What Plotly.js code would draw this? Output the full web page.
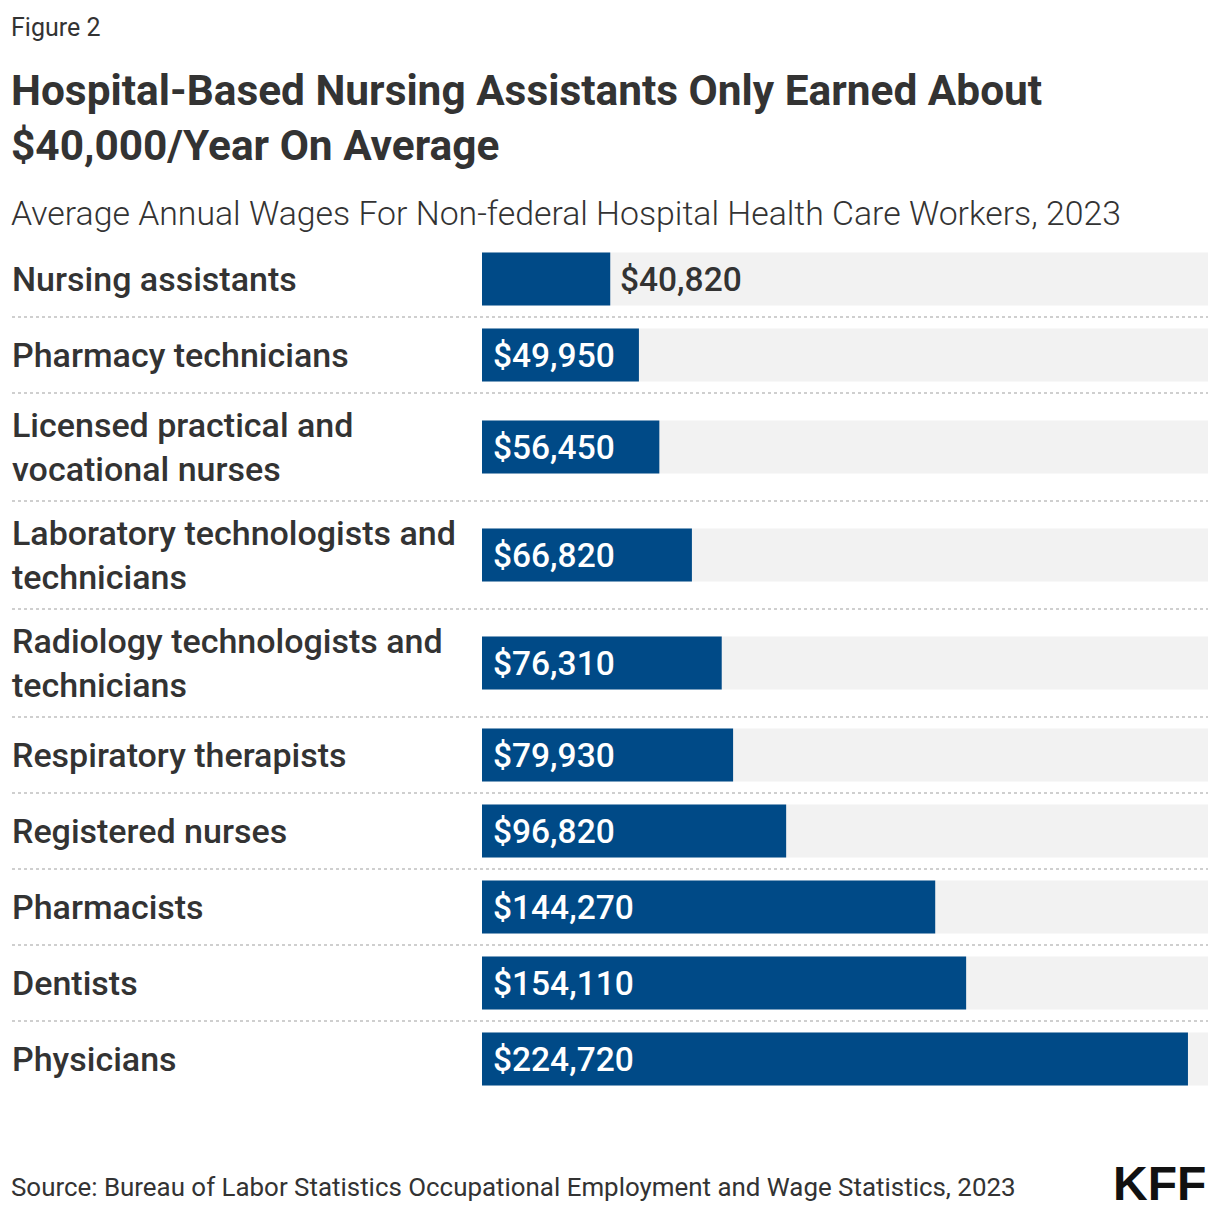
<!DOCTYPE html>
<html>
<head>
<meta charset="utf-8">
<script src="https://cdn.plot.ly/plotly-3.0.1.min.js"></script>
<style>html,body{margin:0;padding:0;background:#fff;}#chart{width:1220px;height:1214px;}</style>
</head>
<body>
<div id="chart"></div>
<script>
// ---- Data ----
const categories = [
  "Nursing assistants",
  "Pharmacy technicians",
  "Licensed practical and<br>vocational nurses",
  "Laboratory technologists and<br>technicians",
  "Radiology technologists and<br>technicians",
  "Respiratory therapists",
  "Registered nurses",
  "Pharmacists",
  "Dentists",
  "Physicians"
];
const wages = [40820, 49950, 56450, 66820, 76310, 79930, 96820, 144270, 154110, 224720];
const wageLabels = ["$40,820", "$49,950", "$56,450", "$66,820", "$76,310", "$79,930", "$96,820", "$144,270", "$154,110", "$224,720"];

const titleText = "Hospital-Based Nursing Assistants Only Earned About<br>$40,000/Year On Average";
const subtitleText = "Average Annual Wages For Non-federal Hospital Health Care Workers, 2023";
const figureText = "Figure 2";
const sourceText = "Source: Bureau of Labor Statistics Occupational Employment and Wage Statistics, 2023";

// ---- Layout geometry ----
const W = 1220, H = 1214;
const PL = 482, PR = 12, PT = 241;
const ROW1 = 76, ROW2 = 108, BARH = 53;
const XMAX = 231100;
const FONT = "Roboto, 'Noto Sans', sans-serif";
const BLUE = "#004a87", GRAY_BG = "#f2f2f2", TXT = "#333333";

const rowH = categories.map(c => c.includes("<br>") ? ROW2 : ROW1);
const totalH = rowH.reduce((a, b) => a + b, 0);
const centers = [], bounds = [];
let acc = 0;
rowH.forEach((h, i) => { centers.push(acc + h / 2); acc += h; if (i < rowH.length - 1) bounds.push(acc); });

const plotW = W - PL - PR;
const PB = H - PT - totalH;
const pxX = px => (px - PL) / plotW;
const pxY = py => (PT + totalH - py) / totalH;

const shapes = [];
centers.forEach(c => shapes.push({
  type: "rect", layer: "below", xref: "paper", yref: "y",
  x0: 0, x1: 1, y0: c - BARH / 2, y1: c + BARH / 2,
  fillcolor: GRAY_BG, line: {width: 0}
}));
bounds.forEach(b => shapes.push({
  type: "line", xref: "paper", yref: "y",
  x0: pxX(12), x1: 1, y0: b, y1: b,
  line: {color: "#cfcfcf", width: 2, dash: "dot"}
}));

const annotations = [];
categories.forEach((c, i) => annotations.push({
  xref: "paper", yref: "y", x: pxX(10), y: centers[i],
  xanchor: "left", yanchor: "middle", align: "left", showarrow: false,
  text: c, font: {family: FONT, size: 34, color: TXT, weight: 500}
}));
wages.forEach((v, i) => {
  const barPx = v / XMAX * plotW;
  const inside = barPx > 140;
  annotations.push({
    xref: "x", yref: "y", x: inside ? 0 : v, y: centers[i],
    xshift: inside ? 9 : 8,
    xanchor: "left", yanchor: "middle", showarrow: false,
    text: wageLabels[i],
    font: {family: FONT, size: 33.5, color: inside ? "#ffffff" : TXT, weight: 500}
  });
});
annotations.push(
  {xref: "paper", yref: "paper", x: pxX(9), y: pxY(27), xanchor: "left", yanchor: "middle", showarrow: false,
   text: figureText, font: {family: FONT, size: 25, color: TXT}},
  {xref: "paper", yref: "paper", x: pxX(9), y: pxY(118), xanchor: "left", yanchor: "middle", align: "left", showarrow: false,
   text: "<b>" + titleText.replace("<br>", "</b><br><b>") + "</b>", font: {family: FONT, size: 42.4, color: TXT}},
  {xref: "paper", yref: "paper", x: pxX(9), y: pxY(213), xanchor: "left", yanchor: "middle", showarrow: false,
   text: subtitleText, font: {family: FONT, size: 33.8, color: TXT, weight: 300}},
  {xref: "paper", yref: "paper", x: pxX(9), y: pxY(1187), xanchor: "left", yanchor: "middle", showarrow: false,
   text: sourceText, font: {family: FONT, size: 25.9, color: TXT}},
  {xref: "paper", yref: "paper", x: 1, y: pxY(1183), xanchor: "right", yanchor: "middle", showarrow: false,
   text: "<b>KFF</b>", font: {family: "'Liberation Sans', Arial, sans-serif", size: 48, color: "#111111"}}
);

const trace = {
  type: "bar", orientation: "h",
  x: wages, y: centers, width: rowH.map(() => BARH),
  marker: {color: BLUE}, hoverinfo: "none"
};

const layout = {
  width: W, height: H,
  margin: {l: PL, r: PR, t: PT, b: PB, pad: 0},
  paper_bgcolor: "#ffffff", plot_bgcolor: "rgba(0,0,0,0)",
  showlegend: false,
  xaxis: {range: [0, XMAX], visible: false, fixedrange: true},
  yaxis: {range: [totalH, 0], visible: false, fixedrange: true},
  shapes: shapes, annotations: annotations,
  font: {family: FONT, color: TXT}
};

Plotly.newPlot("chart", [trace], layout, {displayModeBar: false, staticPlot: true});
</script>
</body>
</html>
